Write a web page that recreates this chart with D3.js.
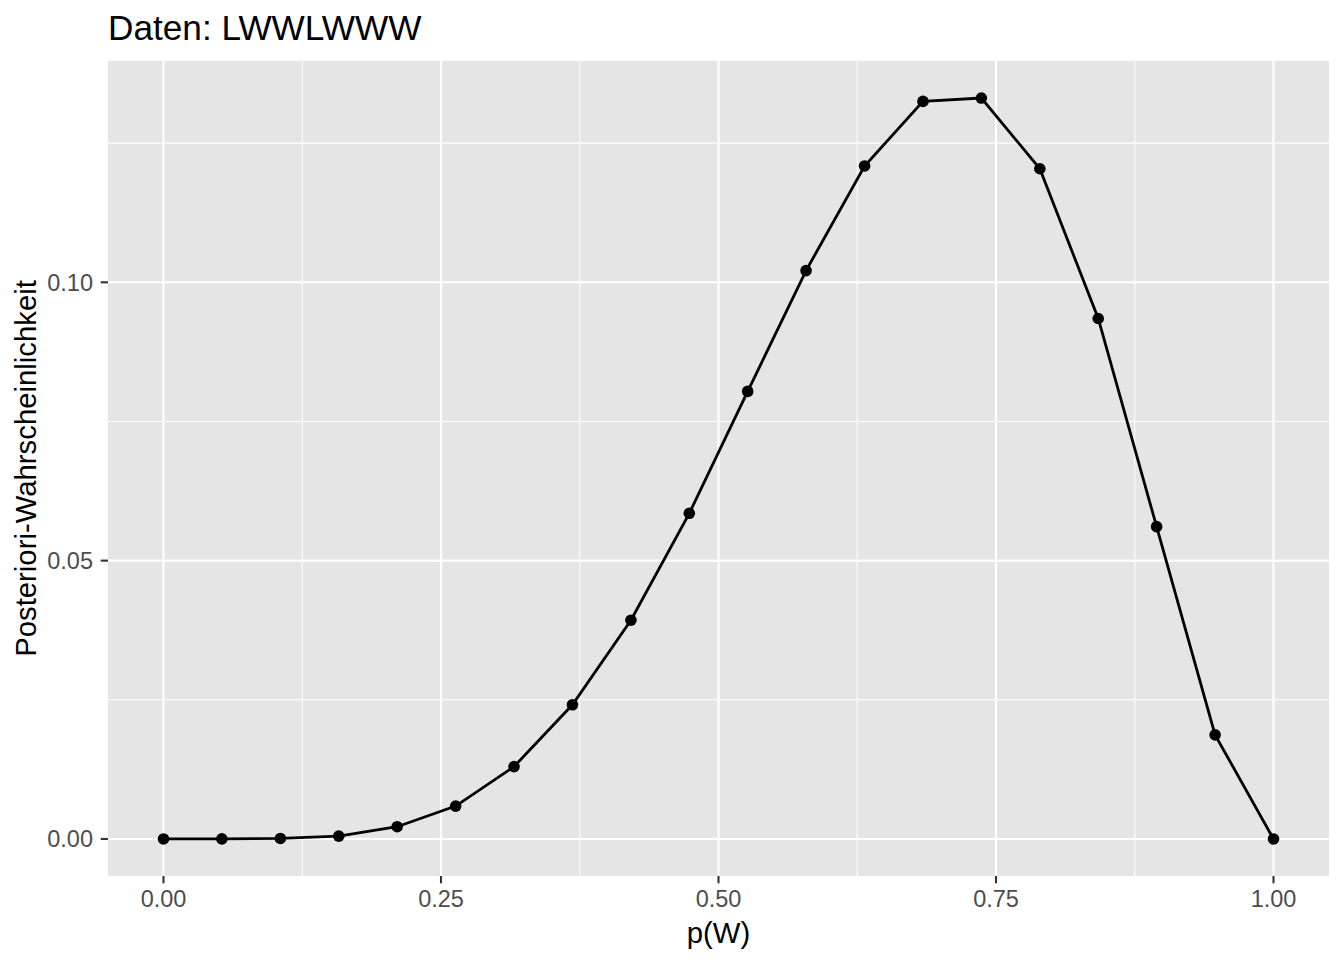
<!DOCTYPE html>
<html lang="de">
<head>
<meta charset="utf-8">
<script src="https://cdn.jsdelivr.net/npm/d3@7"></script>
<style>
  body { margin: 0; background: white; }
  svg { font-family: "Liberation Sans", Arial, Helvetica, sans-serif; }
  .grid-major { stroke: white; stroke-width: 2.1px; }
  .grid-minor { stroke: white; stroke-width: 1.05px; }
  .tick-label { fill: #4d4d4d; font-size: 23.5px; }
  .axis-title { fill: black; font-size: 29.3px; }
</style>
</head>
<body>
<svg width="1344" height="960"></svg>
<script>
// grid of 20 values for p(W), posterior
var pW = [0, 0.0526, 0.1053, 0.1579, 0.2105, 0.2632, 0.3158, 0.3684, 0.4211, 0.4737,
          0.5263, 0.5789, 0.6316, 0.6842, 0.7368, 0.7895, 0.8421, 0.8947, 0.9474, 1];
var posterior = [0, 0.00001, 0.00009, 0.0005, 0.0022, 0.0059, 0.0130, 0.0241, 0.0393, 0.0585,
                 0.0804, 0.1021, 0.1209, 0.1325, 0.1331, 0.1204, 0.0935, 0.0561, 0.0187, 0];
var xTicks = [0, 0.25, 0.5, 0.75, 1];
var xMinor = [0.125, 0.375, 0.625, 0.875];
var yTicks = [0, 0.05, 0.10];
var yMinor = [0.025, 0.075, 0.125];

var svg = d3.select("svg");
var panel = {left: 108, right: 1329, top: 61, bottom: 876};

var yMax = d3.max(posterior);
var x = d3.scaleLinear().domain([-0.05, 1.05]).range([panel.left, panel.right]);
var y = d3.scaleLinear().domain([-0.05 * yMax, 1.05 * yMax]).range([panel.bottom, panel.top]);

svg.append("rect")
    .attr("x", panel.left).attr("y", panel.top)
    .attr("width", panel.right - panel.left).attr("height", panel.bottom - panel.top)
    .attr("fill", "#e5e5e5");

var grid = svg.append("g");
grid.selectAll(".gx-minor").data(xMinor).enter().append("line")
    .attr("class", "grid-minor")
    .attr("x1", d => x(d)).attr("x2", d => x(d))
    .attr("y1", panel.top).attr("y2", panel.bottom);
grid.selectAll(".gy-minor").data(yMinor).enter().append("line")
    .attr("class", "grid-minor")
    .attr("y1", d => y(d)).attr("y2", d => y(d))
    .attr("x1", panel.left).attr("x2", panel.right);
grid.selectAll(".gx").data(xTicks).enter().append("line")
    .attr("class", "grid-major")
    .attr("x1", d => x(d)).attr("x2", d => x(d))
    .attr("y1", panel.top).attr("y2", panel.bottom);
grid.selectAll(".gy").data(yTicks).enter().append("line")
    .attr("class", "grid-major")
    .attr("y1", d => y(d)).attr("y2", d => y(d))
    .attr("x1", panel.left).attr("x2", panel.right);

// line + points
var line = d3.line().x((d, i) => x(pW[i])).y(d => y(d));
svg.append("path")
    .datum(posterior)
    .attr("d", line)
    .attr("fill", "none")
    .attr("stroke", "black")
    .attr("stroke-width", 2.8);

svg.append("g").selectAll("circle")
    .data(posterior).enter().append("circle")
    .attr("cx", (d, i) => x(pW[i]))
    .attr("cy", d => y(d))
    .attr("r", 5.8)
    .attr("fill", "black");

// axes, ggplot style
var fmt = d3.format(".2f");
var xAxis = svg.append("g");
xAxis.selectAll("line").data(xTicks).enter().append("line")
    .attr("x1", d => x(d)).attr("x2", d => x(d))
    .attr("y1", panel.bottom).attr("y2", panel.bottom + 7.3)
    .attr("stroke", "#333333").attr("stroke-width", 2.1);
xAxis.selectAll("text").data(xTicks).enter().append("text")
    .attr("class", "tick-label")
    .attr("x", d => x(d)).attr("y", 907)
    .attr("text-anchor", "middle")
    .text(fmt);

var yAxis = svg.append("g");
yAxis.selectAll("line").data(yTicks).enter().append("line")
    .attr("y1", d => y(d)).attr("y2", d => y(d))
    .attr("x1", panel.left - 7.3).attr("x2", panel.left)
    .attr("stroke", "#333333").attr("stroke-width", 2.1);
yAxis.selectAll("text").data(yTicks).enter().append("text")
    .attr("class", "tick-label")
    .attr("x", 93).attr("y", d => y(d))
    .attr("dy", "0.36em")
    .attr("text-anchor", "end")
    .text(fmt);

svg.append("text")
    .attr("class", "axis-title")
    .attr("x", (panel.left + panel.right) / 2).attr("y", 943)
    .attr("text-anchor", "middle")
    .text("p(W)");

svg.append("text")
    .attr("class", "axis-title")
    .attr("transform", "translate(36," + ((panel.top + panel.bottom) / 2) + ") rotate(-90)")
    .attr("text-anchor", "middle")
    .text("Posteriori-Wahrscheinlichkeit");

svg.append("text")
    .attr("x", panel.left).attr("y", 40)
    .attr("font-size", "35.2px")
    .attr("fill", "black")
    .text("Daten: LWWLWWW");
</script>
</body>
</html>
